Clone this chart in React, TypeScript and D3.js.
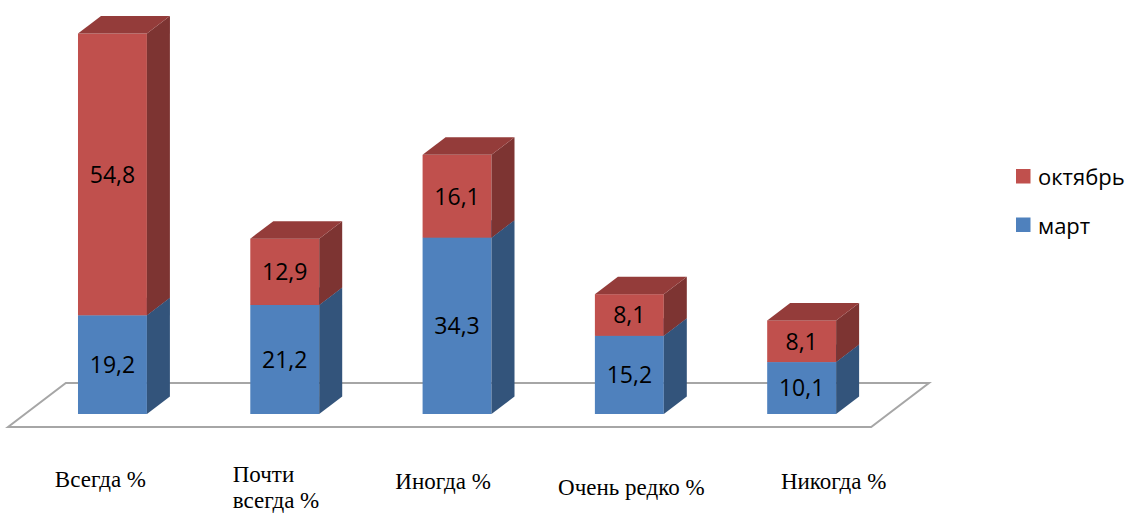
import React from "react";
import * as d3 from "d3";

// ---- data ----
const categories = ["Всегда %", "Почти всегда %", "Иногда %", "Очень редко %", "Никогда %"];
const seriesNames = ["март", "октябрь"];
const mart = [19.2, 21.2, 34.3, 15.2, 10.1];
const oktyabr = [54.8, 12.9, 16.1, 8.1, 8.1];

// ---- layout / style ----
const W = 1130;
const H = 513;
const DX = 23;
const DY = 17.5;
const colors = {
  март: { front: "#4F81BD", side: "#33547B", top: "#3E6797" },
  октябрь: { front: "#C0504D", side: "#7D3432", top: "#943C3A" },
} as Record<string, { front: string; side: string; top: string }>;
// category label placement relative to bar centre (lines, dx, baseline)
const labelLayout = [
  { lines: ["Всегда %"], anchor: "middle", dx: -12, y: [487] },
  { lines: ["Почти", "всегда %"], anchor: "start", dx: -52, y: [482, 508] },
  { lines: ["Иногда %"], anchor: "middle", dx: -14, y: [489] },
  { lines: ["Очень редко %"], anchor: "middle", dx: 2, y: [495] },
  { lines: ["Никогда %"], anchor: "middle", dx: 32, y: [489] },
];
const serif = "Liberation Serif, Times New Roman, serif";
const sans = "Open Sans, Noto Sans, sans-serif";

export default function App() {
  const x = d3
    .scaleBand<string>()
    .domain(categories)
    .range([26.3, 887.8])
    .paddingInner(0.6)
    .paddingOuter(0.3);
  const totals = categories.map((_, i) => mart[i] + oktyabr[i]);
  const y = d3.scaleLinear().domain([0, d3.max(totals) as number]).range([414, 33.5]);

  const stack = d3
    .stack<number>()
    .keys(seriesNames)
    .value((i, key) => (key === "март" ? mart[i] : oktyabr[i]));
  const layers = stack(categories.map((_, i) => i));

  const bw = x.bandwidth();
  const floorFrontY = 427;
  const floorBackY = 383;
  const floorDx = ((floorFrontY - floorBackY) * DX) / DY;
  const floor = [
    [8, floorFrontY],
    [8 + floorDx, floorBackY],
    [929, floorBackY],
    [929 - floorDx, floorFrontY],
  ];

  const pts = (p: number[][]) => p.map((q) => q.join(",")).join(" ");

  return (
    <svg
      width={W}
      height={H}
      style={{ position: "absolute", left: 0, top: 0, background: "#fff" }}
    >
      <polygon points={pts(floor)} fill="#fff" stroke="#A6A6A6" strokeWidth={2} />
      {categories.map((c, i) => {
        const x0 = x(c) as number;
        const x1 = x0 + bw;
        return (
          <g key={c}>
            {layers.map((layer) => {
              const key = layer.key;
              const yb = y(layer[i][0]);
              const yt = y(layer[i][1]);
              const col = colors[key];
              return (
                <g key={key}>
                  <rect x={x0} y={yt} width={bw} height={yb - yt} fill={col.front} />
                  <polygon
                    points={pts([
                      [x1, yb],
                      [x1 + DX, yb - DY],
                      [x1 + DX, yt - DY],
                      [x1, yt],
                    ])}
                    fill={col.side}
                  />
                  <polygon
                    points={pts([
                      [x0, yt],
                      [x0 + DX, yt - DY],
                      [x1 + DX, yt - DY],
                      [x1, yt],
                    ])}
                    fill={col.top}
                  />
                </g>
              );
            })}
            {layers.map((layer) => {
              const yb = y(layer[i][0]);
              const yt = y(layer[i][1]);
              const v = layer[i][1] - layer[i][0];
              return (
                <text
                  key={"t" + layer.key}
                  x={x0 + bw / 2}
                  y={(yb + yt) / 2}
                  dy="0.36em"
                  textAnchor="middle"
                  style={{ fontFamily: sans, fontSize: 23 }}
                  fill="#000"
                >
                  {d3.format(".1f")(v).replace(".", ",")}
                </text>
              );
            })}
          </g>
        );
      })}
      {categories.map((c, i) => {
        const L = labelLayout[i];
        const cx = (x(c) as number) + bw / 2 + L.dx;
        return (
          <text
            key={"l" + c}
            textAnchor={L.anchor as any}
            style={{ fontFamily: serif, fontSize: 23 }}
            fill="#000"
          >
            {L.lines.map((ln, j) => (
              <tspan key={j} x={cx} y={L.y[j]}>
                {ln}
              </tspan>
            ))}
          </text>
        );
      })}
      {/* legend */}
      {["октябрь", "март"].map((s, j) => (
        <g key={s} transform={`translate(1016, ${169 + j * 48.5})`}>
          <rect width={14.5} height={14.5} fill={colors[s].front} />
          <text x={22} y={16} style={{ fontFamily: sans, fontSize: 22 }} fill="#000">
            {s}
          </text>
        </g>
      ))}
    </svg>
  );
}
